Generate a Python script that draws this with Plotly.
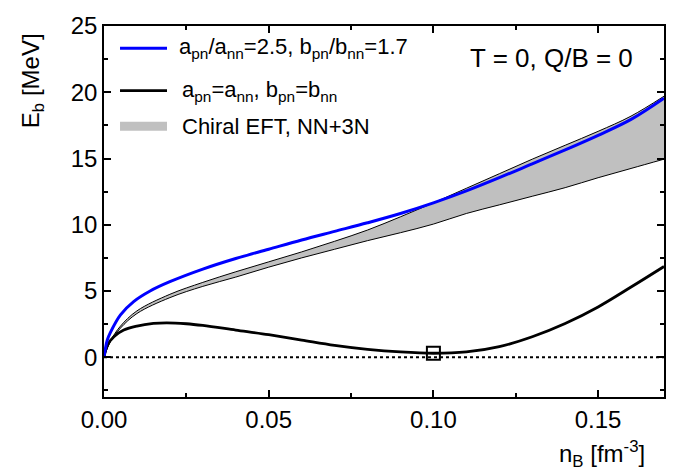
import plotly.graph_objects as go

# ---------------- data ----------------
n_blue = [0, 0.001, 0.002, 0.005, 0.009, 0.014, 0.02, 0.03, 0.04, 0.05, 0.06, 0.07,
          0.08, 0.09, 0.10, 0.11, 0.12, 0.13, 0.14, 0.15, 0.16, 0.17]
E_blue = [0, 1.3, 1.9, 3.2, 4.2, 5.0, 5.7, 6.65, 7.45, 8.15, 8.85, 9.5,
          10.15, 10.85, 11.65, 12.55, 13.55, 14.6, 15.65, 16.75, 17.95, 19.55]

n_black = [0, 0.001, 0.003, 0.006, 0.01, 0.015, 0.019, 0.025, 0.03, 0.04, 0.05, 0.06,
           0.07, 0.08, 0.09, 0.10, 0.11, 0.12, 0.13, 0.14, 0.15, 0.16, 0.17]
E_black = [0, 0.9, 1.55, 2.05, 2.35, 2.55, 2.6, 2.53, 2.4, 2.05, 1.7, 1.3,
           0.9, 0.6, 0.4, 0.3, 0.4, 0.8, 1.55, 2.55, 3.8, 5.3, 6.85]

n_band = [0, 0.002, 0.005, 0.01, 0.02, 0.03, 0.04, 0.05, 0.06, 0.07, 0.08, 0.09,
          0.10, 0.11, 0.12, 0.13, 0.14, 0.15, 0.16, 0.17]
E_band_hi = [0, 1.25, 2.35, 3.5, 4.75, 5.65, 6.45, 7.2, 7.95, 8.75, 9.6, 10.6,
             11.65, 12.75, 13.85, 14.95, 16.0, 17.05, 18.2, 19.7]
E_band_lo = [0, 1.2, 2.2, 3.3, 4.5, 5.35, 6.05, 6.8, 7.5, 8.15, 8.8, 9.4,
             10.05, 10.85, 11.5, 12.15, 12.8, 13.55, 14.25, 14.95]

saturation_n = [0.10]
saturation_E = [0.3]

zero_n = [0.0, 0.17]
zero_E = [0.0, 0.0]

x_ticks = [0.00, 0.05, 0.10, 0.15]
x_ticklabels = ["0.00", "0.05", "0.10", "0.15"]
y_ticks = [0, 5, 10, 15, 20, 25]

legend_labels = ["a<sub>pn</sub>/a<sub>nn</sub>=2.5, b<sub>pn</sub>/b<sub>nn</sub>=1.7",
                 "a<sub>pn</sub>=a<sub>nn</sub>, b<sub>pn</sub>=b<sub>nn</sub>",
                 "Chiral EFT, NN+3N"]

FONT = "Liberation Sans, Arial, sans-serif"
BLUE = "#0000ff"
GREY = "#c0c0c0"

fig = go.Figure()

# band
fig.add_trace(go.Scatter(x=n_band, y=E_band_lo, mode="lines", line_shape="spline",
                         line=dict(color="black", width=1), showlegend=False))
fig.add_trace(go.Scatter(x=n_band, y=E_band_hi, mode="lines", line_shape="spline",
                         fill="tonexty", fillcolor=GREY,
                         line=dict(color="black", width=1), showlegend=False))
# zero line
fig.add_trace(go.Scatter(x=zero_n, y=zero_E, mode="lines",
                         line=dict(color="black", width=2, dash="dot"),
                         showlegend=False))
# black
fig.add_trace(go.Scatter(x=n_black, y=E_black, mode="lines", line_shape="spline",
                         line=dict(color="black", width=2.8), showlegend=False))
# blue
fig.add_trace(go.Scatter(x=n_blue, y=E_blue, mode="lines", line_shape="spline",
                         line=dict(color=BLUE, width=3), showlegend=False))
# saturation point
fig.add_trace(go.Scatter(x=saturation_n, y=saturation_E, mode="markers",
                         marker=dict(symbol="square-open", size=13,
                                     color="black", line=dict(width=2)),
                         showlegend=False))

# manual legend (paper coords of plot area)
leg_x0, leg_x1 = 0.0286, 0.1125
leg_y = [0.94, 0.826, 0.73]
leg_colors = [BLUE, "black", GREY]
leg_widths = [3, 2.8, 9]
leg_text_x = [0.1304, 0.1354, 0.1354]
for yy, col, w in zip(leg_y, leg_colors, leg_widths):
    fig.add_shape(type="line", xref="paper", yref="paper",
                  x0=leg_x0, x1=leg_x1, y0=yy, y1=yy,
                  line=dict(color=col, width=w))
for yy, tx, lab in zip(leg_y, leg_text_x, legend_labels):
    fig.add_annotation(xref="paper", yref="paper", x=tx, y=yy, text=lab,
                       showarrow=False, xanchor="left", yanchor="middle",
                       font=dict(family=FONT, size=22, color="black"))

fig.add_annotation(xref="paper", yref="paper", x=0.948, y=0.915,
                   text="T = 0, Q/B = 0", showarrow=False,
                   xanchor="right", yanchor="middle",
                   font=dict(family=FONT, size=26, color="black"))

# axis titles
fig.add_annotation(xref="paper", yref="paper", x=-0.1286, y=0.854,
                   text="E<sub>b</sub> [MeV]", showarrow=False, textangle=-90,
                   xanchor="center", yanchor="middle",
                   font=dict(family=FONT, size=24, color="black"))
fig.add_annotation(xref="paper", yref="paper", x=0.970, y=-0.154,
                   text="n<sub>B</sub> [fm<sup>-3</sup>]", showarrow=False,
                   xanchor="right", yanchor="middle",
                   font=dict(family=FONT, size=24, color="black"))

axis_common = dict(showgrid=False, zeroline=False, showline=True, linecolor="black",
                   linewidth=1.5, mirror="allticks", ticks="inside", ticklen=7,
                   tickwidth=1.5, tickcolor="black",
                   tickfont=dict(family=FONT, size=24, color="black"))

fig.update_xaxes(range=[0, 0.17], tickvals=x_ticks, ticktext=x_ticklabels,
                 minor=dict(dtick=0.025, tick0=0, ticks="inside", ticklen=4,
                            tickwidth=1.5, tickcolor="black"),
                 **axis_common)
fig.update_yaxes(range=[-3, 25], tickvals=y_ticks,
                 minor=dict(dtick=2.5, tick0=0, ticks="inside", ticklen=4,
                            tickwidth=1.5, tickcolor="black"),
                 **axis_common)

fig.update_layout(width=689, height=475,
                  margin=dict(l=104, r=25, t=21, b=78),
                  plot_bgcolor="white", paper_bgcolor="white",
                  showlegend=False)

fig.write_html("out.html")
